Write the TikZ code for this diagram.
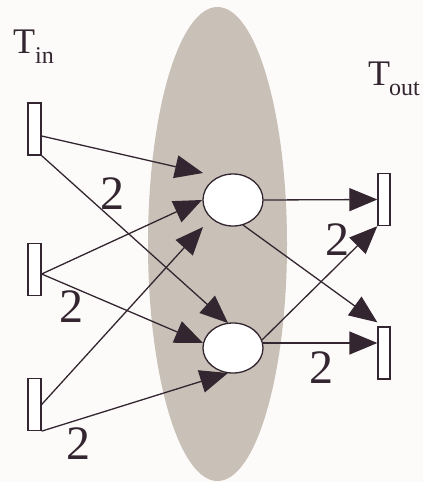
\documentclass[tikz,border=0pt]{standalone}
\usepackage{fontspec}
\setmainfont{Liberation Serif}
\usetikzlibrary{arrows.meta,shapes.geometric,calc}
\definecolor{bgc}{RGB}{252,251,250}
\definecolor{ovalc}{RGB}{201,192,183}
\definecolor{ink}{RGB}{52,38,48}
\tikzset{
  trans/.style={draw=ink, fill=white, line width=1.3pt, rectangle, inner sep=0pt, minimum width=13pt, minimum height=52pt},
  place/.style={draw=ink, fill=white, line width=1.3pt, ellipse, inner sep=0pt, minimum width=60pt, minimum height=52pt},
  arc/.style={draw=ink, line width=1.3pt, -{Triangle[length=28pt,width=23pt]}},
  weight/.style={text=ink, inner sep=0pt, font=\fontsize{48}{48}\selectfont},
  tlabel/.style={text=ink, inner sep=0pt, anchor=base west, font=\fontsize{36}{36}\selectfont},
}
\newcommand{\subtxt}[1]{\raisebox{-10pt}{\fontsize{24}{24}\selectfont #1}}
\begin{document}
\begin{tikzpicture}[x=1pt,y=-1pt]
\fill[bgc] (0,0) rectangle (423,482);
\useasboundingbox (0,0) rectangle (423,482);
\node[ellipse, fill=ovalc, inner sep=0pt, minimum width=139pt, minimum height=474pt] (cluster) at (217.5,244) {};

\node[tlabel] (tin) at (13,53) {T\subtxt{in}};
\node[tlabel] (tout) at (368,85) {T\kern-1pt\subtxt{out}};

\node[trans] (t1) at (34.5,129) {};
\node[trans] (t2) at (34.5,269.5) {};
\node[trans] (t3) at (34.5,404.5) {};
\node[trans, minimum width=12pt] (r1) at (384,199.5) {};
\node[trans, minimum width=12pt] (r2) at (384,353) {};

\node[place] (p1) at (233,200) {};
\node[place, minimum height=50pt] (p2) at (233,348) {};

% input arcs
\draw[arc] ($(t1.east)+(0,7)$) -- ($(p1.center)+(-30,-27)$);
\draw[arc] (t1.south east) -- ($(p2.center)+(-5,-25)$);
\draw[arc] ($(t2.east)+(0,4.5)$) -- ($(p1.center)+(-31,0)$);
\draw[arc] ($(t2.east)+(0,4.5)$) -- ($(p2.center)+(-30,-5)$);
\draw[arc] (t3.east) -- ($(p1.center)+(-30,27)$);
\draw[arc] (t3.south east) -- ($(p2.center)+(-5,25)$);

% output arcs
\draw[arc] (p1.east) -- (r1.west);
\draw[arc] ($(p1.center)+(10,25)$) -- ($(r2.north west)+(0,-4)$);
\draw[arc] ($(p2.center)+(29,-8)$) -- (r1.south west);
\draw[arc] ($(p2.center)+(30,-5)$) -- ($(r2.west)+(0,-10)$);

% weights
\node[weight] (w1) at (112,194) {2};
\node[weight] (w2) at (71,307) {2};
\node[weight] (w3) at (78,444) {2};
\node[weight] (w4) at (337,240) {2};
\node[weight] (w5) at (321,368) {2};
\end{tikzpicture}
\end{document}
